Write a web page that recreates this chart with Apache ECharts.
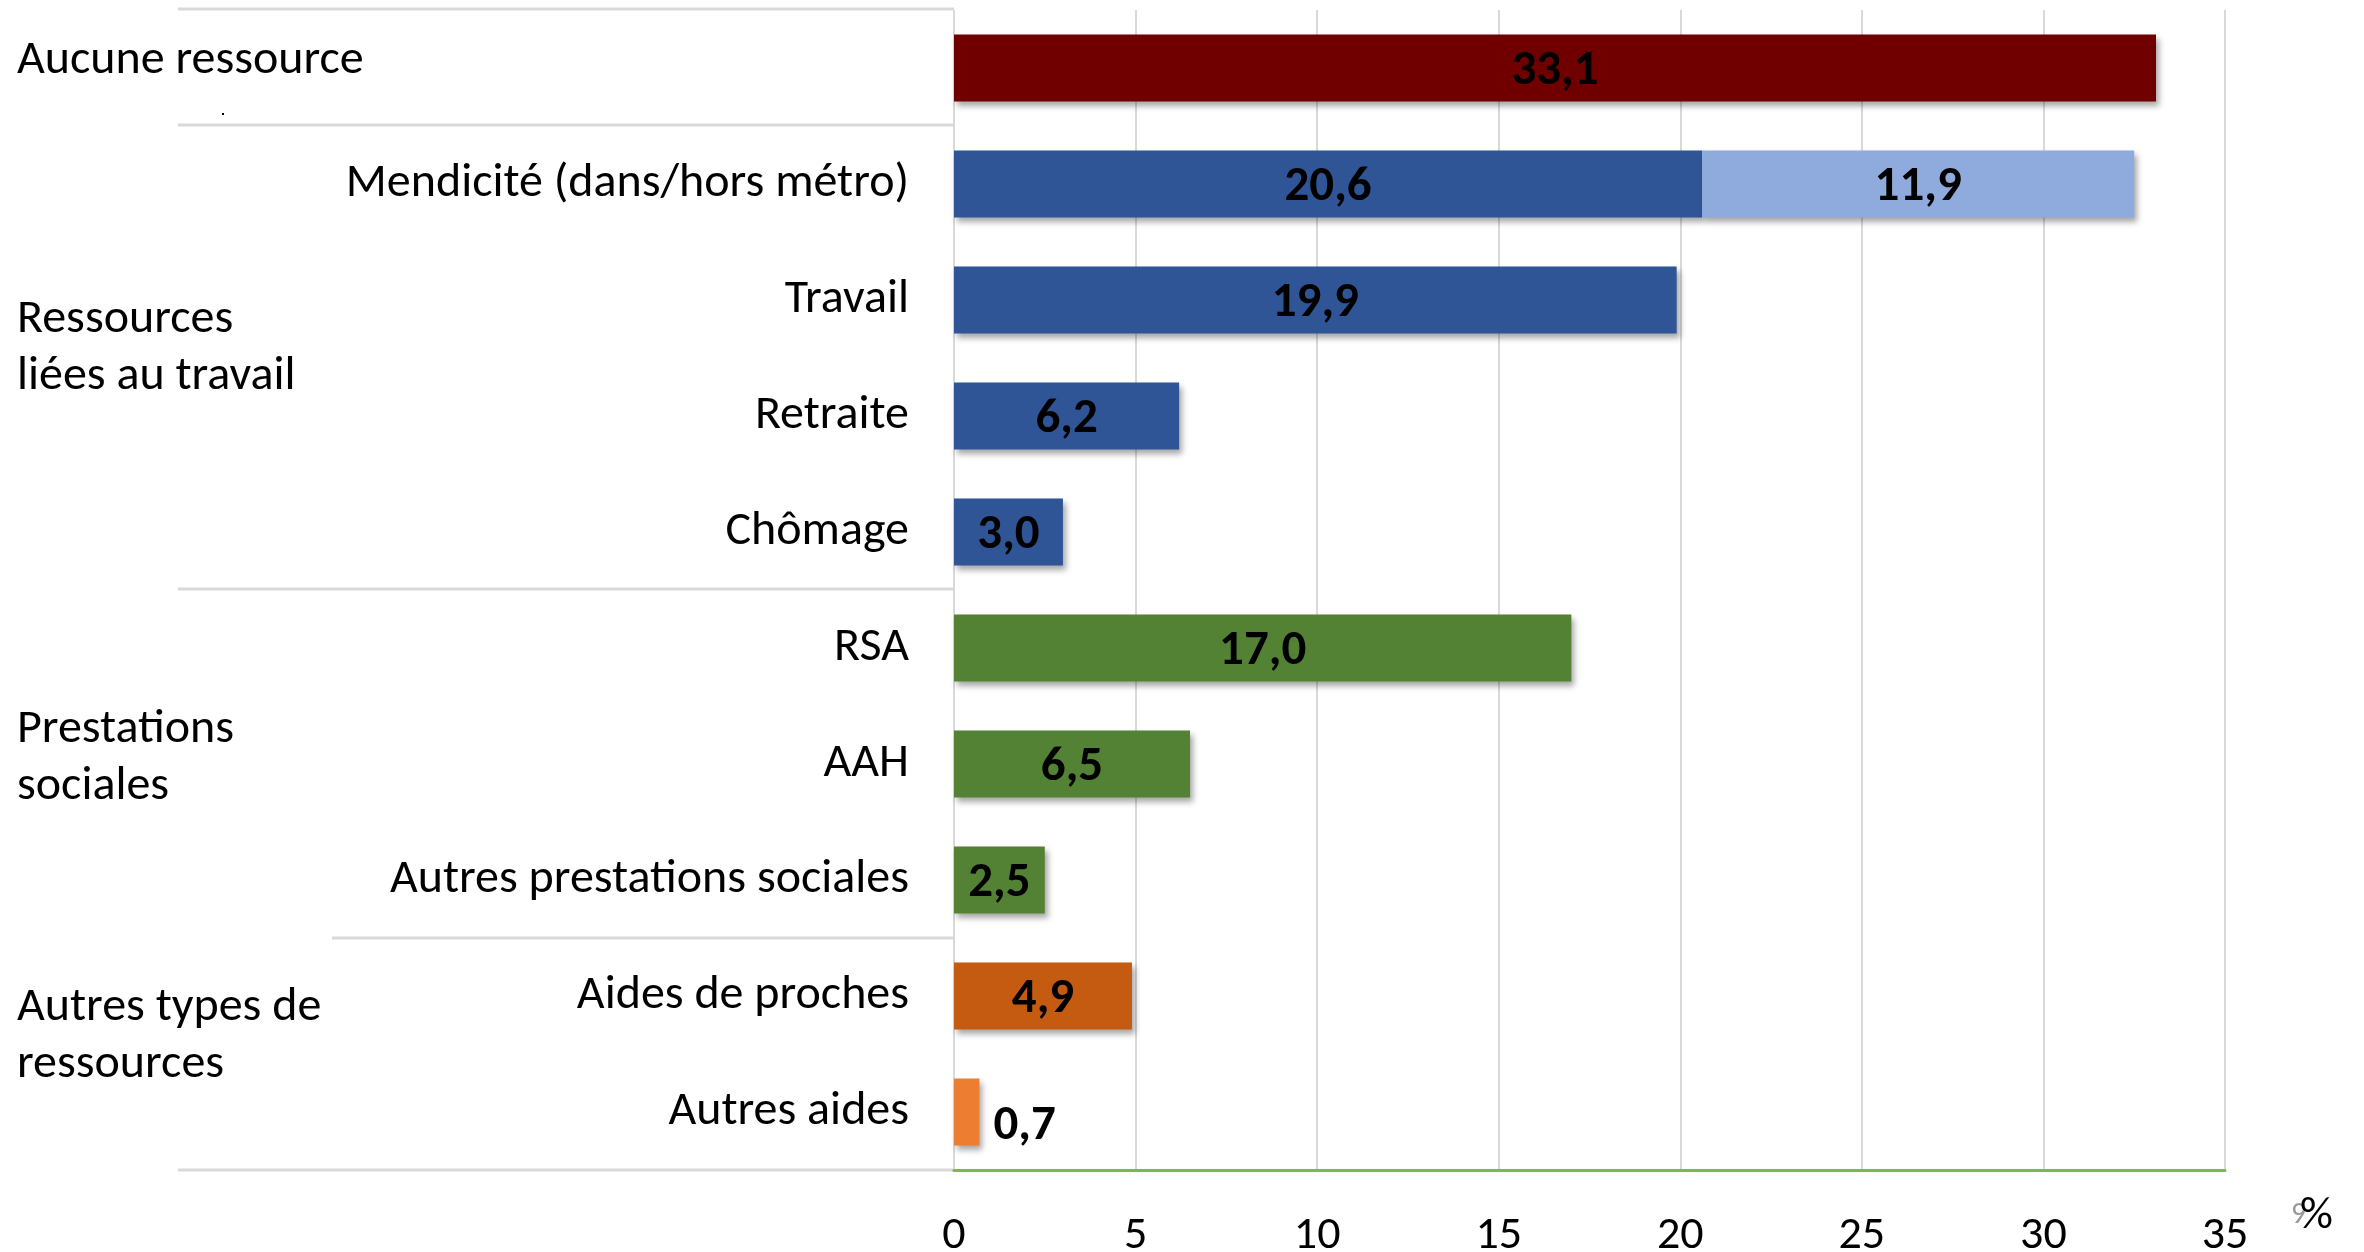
<!DOCTYPE html>
<html>
<head>
<meta charset="utf-8">
<script src="https://cdn.jsdelivr.net/npm/echarts@6/dist/echarts.min.js"></script>
<style>
  html, body { margin: 0; padding: 0; background: #fff; }
  #chart { width: 2364px; height: 1252px; }
</style>
</head>
<body>
<div id="chart"></div>
<script>
// data
const categories = ['Aucune ressource', 'Mendicité (dans/hors métro)', 'Travail', 'Retraite', 'Chômage',
  'RSA', 'AAH', 'Autres prestations sociales', 'Aides de proches', 'Autres aides'];
const mainValues = [33.1, 20.6, 19.9, 6.2, 3.0, 17.0, 6.5, 2.5, 4.9, 0.7];
const extraValues = ['-', 11.9, '-', '-', '-', '-', '-', '-', '-', '-'];
const groupLabels = ['Aucune ressource', 'Ressources\nliées au travail', 'Prestations\nsociales', 'Autres types de\nressources'];
const unitLabel = '%';

// colours per bar (style)
const barColors = ['#700000', '#2F5597', '#2F5597', '#2F5597', '#2F5597',
  '#548235', '#548235', '#548235', '#C55A11', '#ED7D31'];
const lightBlue = '#8FAADC';

const FONT = 'Carlito, Lato, sans-serif';
const fmt = v => Number(v).toFixed(1).replace('.', ',');

const shadow = {
  shadowBlur: 6,
  shadowOffsetX: 3,
  shadowOffsetY: 4,
  shadowColor: 'rgba(0,0,0,0.35)'
};

const valueLabel = {
  show: true,
  position: 'inside',
  color: '#000',
  fontWeight: 'bold',
  fontSize: 49,
  fontFamily: FONT,
  offset: [0, 4],
  formatter: p => fmt(p.value)
};

const chart = echarts.init(document.getElementById('chart'));

const option = {
  animation: false,
  grid: { left: 954, right: 139, top: 10, bottom: 82, containLabel: false, outerBoundsMode: 'none' },
  xAxis: {
    type: 'value',
    min: 0,
    max: 35,
    interval: 5,
    axisLine: { show: true, lineStyle: { color: '#7CB84F', width: 3 } },
    axisTick: { show: false },
    axisLabel: { color: '#000', fontSize: 46, fontFamily: FONT, margin: 43 },
    splitLine: { show: true, lineStyle: { color: '#D9D9D9', width: 2 } }
  },
  yAxis: {
    type: 'category',
    inverse: true,
    data: categories,
    axisLine: { show: false },
    axisTick: { show: false },
    axisLabel: {
      color: '#000', fontSize: 48, fontFamily: FONT, margin: 45,
      padding: [10, 0, 0, 0],
      formatter: (v, i) => (i === 0 ? '' : v)
    }
  },
  series: [
    {
      type: 'bar',
      stack: 'total',
      barWidth: 67,
      data: mainValues.map((v, i) => ({
        value: v,
        itemStyle: Object.assign({ color: barColors[i] }, shadow),
        label: i === mainValues.length - 1 ? { position: 'right', distance: 14, offset: [0, 15] } : {}
      })),
      label: valueLabel
    },
    {
      type: 'bar',
      stack: 'total',
      barWidth: 67,
      data: extraValues,
      itemStyle: Object.assign({ color: lightBlue }, shadow),
      label: valueLabel
    }
  ]
};

chart.setOption(option);

// separators and group labels on the left
const sepColor = '#D9D9D9';
function hline(x1, x2, y) {
  return { type: 'line', shape: { x1: x1, y1: y, x2: x2, y2: y }, style: { stroke: sepColor, lineWidth: 3 }, silent: true };
}
function gtext(txt, y) {
  return {
    type: 'text', left: 17, top: y,
    style: { text: txt, font: '48px ' + FONT, fill: '#000', lineHeight: 57, textVerticalAlign: 'top' },
    silent: true
  };
}

chart.setOption({
  graphic: [
    hline(178, 954, 9),
    hline(178, 954, 125),
    hline(178, 954, 589),
    hline(332, 954, 938),
    hline(178, 954, 1170),
    gtext(groupLabels[0], 32),
    gtext(groupLabels[1], 291),
    gtext(groupLabels[2], 701),
    gtext(groupLabels[3], 979),
    { type: 'rect', shape: { x: 222, y: 113, width: 2, height: 2 }, style: { fill: '#000' }, silent: true },
    { type: 'text', left: 2291, top: 1200, style: { text: '9', font: '30px ' + FONT, fill: '#999' }, silent: true },
    { type: 'text', left: 2300, top: 1193, style: { text: unitLabel, font: '46px ' + FONT, fill: '#000' }, silent: true }
  ]
});
</script>
</body>
</html>
